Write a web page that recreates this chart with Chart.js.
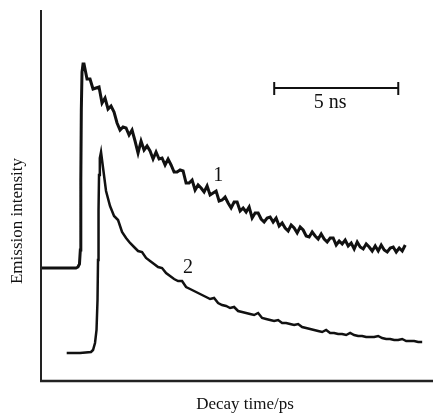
<!DOCTYPE html>
<html>
<head>
<meta charset="utf-8">
<script src="https://cdn.jsdelivr.net/npm/chart.js@4/dist/chart.umd.min.js"></script>
<style>
  body { margin: 0; background: #fff; }
  #wrap { width: 433px; height: 414px; position: relative; }
</style>
</head>
<body>
<div id="wrap"><canvas id="myChart"></canvas></div>
<script>
// time in ns, intensity in arbitrary counts

// curve 1: baseline + rising edge
const rise1Time = [0, 0.77, 1.41, 1.49, 1.55, 1.585, 1.605, 1.625, 1.653, 1.694];
const rise1Counts = [113, 113, 113, 114, 117, 131, 201, 271, 309, 317];
// curve 1: decay, one value per channel
const decay1Start = 1.734;
const decay1Channel = 0.121;
const decay1Counts = [
  317, 302, 302, 292, 293, 294, 278, 283, 272, 275,
  269, 258, 251, 254, 253, 246, 251, 240, 228, 240,
  231, 235, 230, 222, 229, 222, 223, 216, 222, 216,
  209, 209, 211, 210, 198, 198, 201, 191, 196, 193,
  189, 195, 186, 188, 190, 180, 181, 184, 178, 173,
  179, 179, 170, 173, 169, 174, 163, 168, 168, 162,
  159, 163, 164, 159, 163, 155, 158, 153, 150, 156,
  153, 148, 154, 151, 145, 144, 149, 145, 142, 147,
  142, 139, 143, 143, 136, 140, 137, 141, 135, 138,
  132, 139, 134, 132, 137, 134, 130, 135, 130, 136,
  131, 129, 133, 134, 129, 133, 130, 136
];

// curve 2: baseline + rising edge
const rise2Time = [1.036, 1.573, 2.016, 2.097, 2.177, 2.238, 2.278, 2.298, 2.319, 2.339, 2.371, 2.419];
const rise2Counts = [28, 28, 29, 31, 38, 51, 81, 121, 171, 206, 223, 229];
// curve 2: decay
const decay2Start = 2.46;
const decay2Channel = 0.1613;
const decay2Counts = [
  221, 190, 175, 165, 161, 149, 143, 138, 134, 130,
  129, 123, 120, 117, 114, 113, 108, 105, 102, 100,
  100, 94, 92, 90, 88, 86, 84, 82, 83, 78,
  76, 75, 73, 74, 70, 69, 68, 67, 66, 68,
  63, 62, 61, 60, 61, 58, 58, 57, 56, 57,
  54, 53, 52, 51, 50, 49, 51, 48, 48, 47,
  47, 46, 48, 46, 45, 45, 44, 44, 44, 45,
  43, 42, 42, 41, 41, 42, 40, 40, 40, 39, 39
];

// annotations
const scaleBarStart = 9.4;
const scaleBarLength = 5;
const scaleBarLevel = 293;
const scaleBarText = '5 ns';
const curveLabels = [
  { text: '1', t: 7.14, y: 205 },
  { text: '2', t: 5.93, y: 113 }
];
const xTitle = 'Decay time/ps';
const yTitle = 'Emission intensity';

function buildPoints(riseT, riseY, start, step, counts) {
  const pts = riseT.map((t, i) => ({ x: t, y: riseY[i] }));
  counts.forEach((c, i) => pts.push({ x: start + i * step, y: c }));
  return pts;
}

const serif = '"Liberation Serif", "DejaVu Serif", serif';

const decorations = {
  id: 'decorations',
  afterDraw(chart) {
    const c = chart.ctx;
    const a = chart.chartArea;
    const xs = chart.scales.x, ys = chart.scales.y;
    c.save();
    c.strokeStyle = '#222';
    // axes
    c.lineWidth = 2;
    c.beginPath();
    c.moveTo(a.left, a.top);
    c.lineTo(a.left, a.bottom);
    c.stroke();
    c.lineWidth = 2.5;
    c.beginPath();
    c.moveTo(a.left - 1, a.bottom);
    c.lineTo(a.right, a.bottom);
    c.stroke();

    // scale bar
    const x0 = xs.getPixelForValue(scaleBarStart);
    const x1 = xs.getPixelForValue(scaleBarStart + scaleBarLength);
    const yb = ys.getPixelForValue(scaleBarLevel);
    c.strokeStyle = '#111';
    c.lineWidth = 2;
    c.beginPath();
    c.moveTo(x0, yb); c.lineTo(x1, yb);
    c.moveTo(x0, yb - 6); c.lineTo(x0, yb + 7);
    c.moveTo(x1, yb - 6); c.lineTo(x1, yb + 7);
    c.stroke();

    c.fillStyle = '#111';
    c.textAlign = 'center';
    c.textBaseline = 'middle';
    c.font = '20px ' + serif;
    c.fillText(scaleBarText, xs.getPixelForValue(scaleBarStart + 2.25), yb + 15);

    c.font = '20px ' + serif;
    curveLabels.forEach(l => {
      c.fillText(l.text, xs.getPixelForValue(l.t), ys.getPixelForValue(l.y));
    });

    // axis titles
    c.font = '17px ' + serif;
    c.fillText(xTitle, 245, 405);
    c.translate(18, 221);
    c.rotate(-Math.PI / 2);
    c.fillText(yTitle, 0, 0);
    c.restore();
  }
};

const ctx = document.getElementById('myChart').getContext('2d');
const chart = new Chart(ctx, {
  type: 'line',
  data: {
    datasets: [{
      label: '1',
      data: buildPoints(rise1Time, rise1Counts, decay1Start, decay1Channel, decay1Counts),
      borderColor: '#111',
      borderWidth: 3,
      pointRadius: 0,
      tension: 0,
      fill: false
    }, {
      label: '2',
      data: buildPoints(rise2Time, rise2Counts, decay2Start, decay2Channel, decay2Counts),
      borderColor: '#111',
      borderWidth: 2.5,
      pointRadius: 0,
      tension: 0,
      fill: false
    }]
  },
  options: {
    responsive: true,
    maintainAspectRatio: false,
    animation: false,
    layout: { padding: { left: 41, top: 10, right: 0, bottom: 33 } },
    plugins: { legend: { display: false }, tooltip: { enabled: false } },
    scales: {
      x: { type: 'linear', min: 0, max: 15.8, display: false },
      y: { min: 0, max: 371, display: false }
    }
  },
  plugins: [decorations]
});
</script>
</body>
</html>
